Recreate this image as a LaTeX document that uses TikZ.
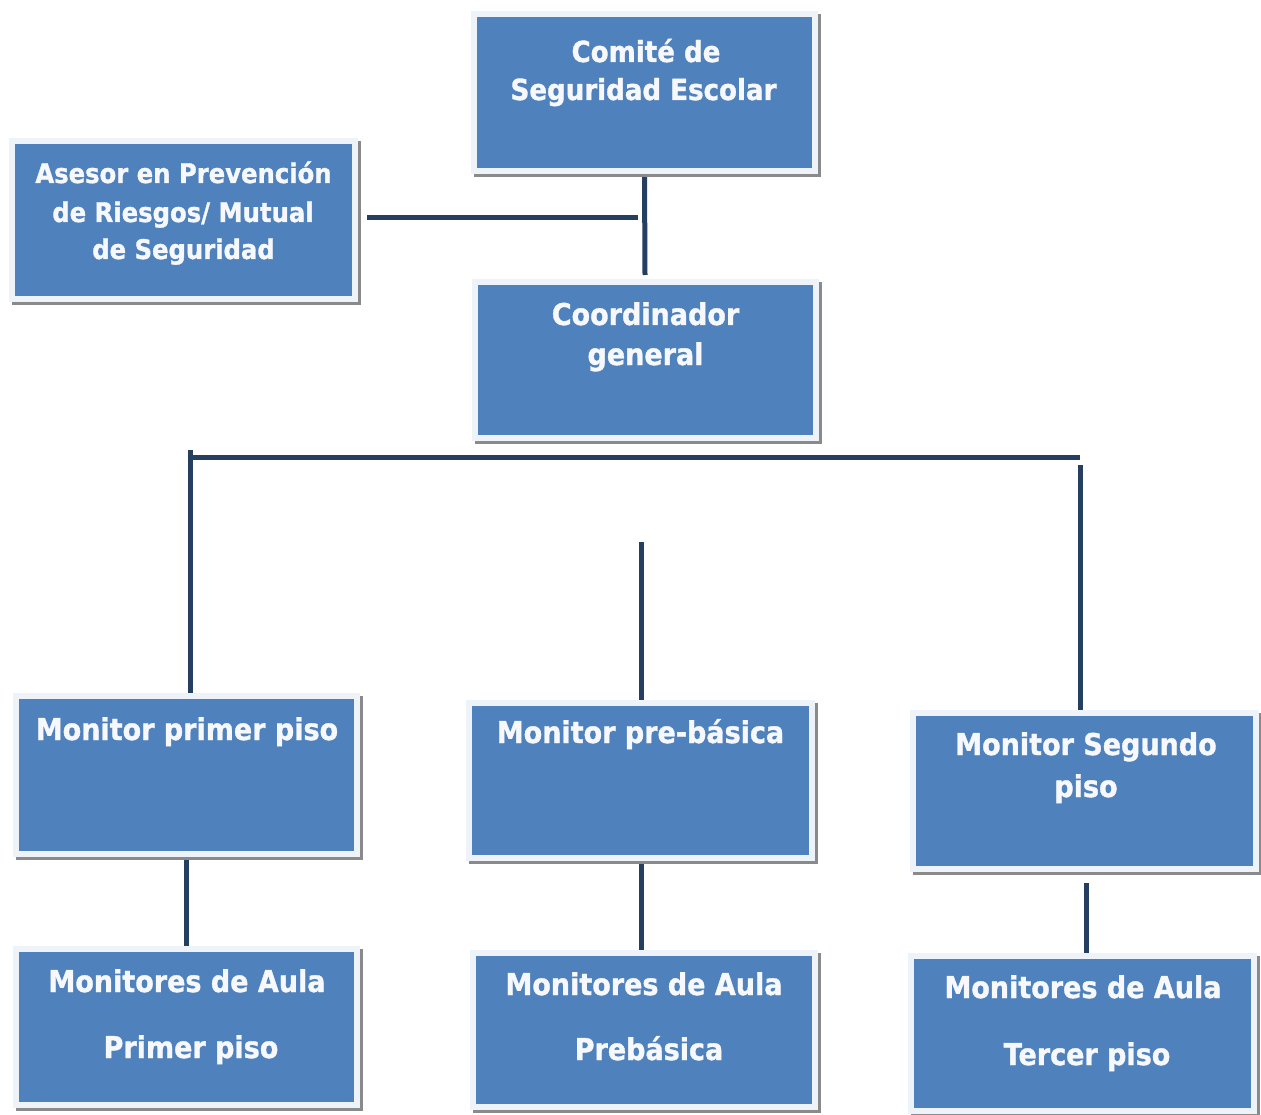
\documentclass[tikz,border=0pt]{standalone}
\usepackage{fontspec}
\newfontfamily\boxfont[FakeStretch=0.9,BoldFeatures={FakeBold=1.2}]{DejaVu Sans}
\usetikzlibrary{calc}
\definecolor{boxblue}{HTML}{4F81BD}
\definecolor{framecol}{HTML}{EEF3F9}
\definecolor{shadowcol}{HTML}{8A8A8A}
\definecolor{linecol}{HTML}{243F60}
\definecolor{txtcol}{HTML}{F6F8FC}
\pgfdeclarelayer{bg}
\pgfdeclarelayer{paper}
\pgfsetlayers{paper,bg,main}
\tikzset{
  orgbox/.style={rectangle, fill=boxblue, draw=framecol, line width=6pt, inner sep=0pt,
    preaction={draw=shadowcol, fill=shadowcol, line width=6pt,
      transform canvas={xshift=3pt,yshift=-3pt}}},
  boxtxt/.style={anchor=base, inner sep=0pt, text=txtcol,
    font=\boxfont\bfseries\fontsize{30}{36}\selectfont},
  smalltxt/.style={boxtxt, font=\boxfont\bfseries\fontsize{27}{33}\selectfont},
  midtxt/.style={boxtxt, font=\boxfont\bfseries\fontsize{29}{35}\selectfont},
  conn/.style={draw=linecol, line width=5pt, line cap=butt},
}
\begin{document}
\begin{tikzpicture}[x=1pt,y=-1pt]
\useasboundingbox (0,0) rectangle (1261,1115);
\begin{pgfonlayer}{paper}
\fill[white] (0,0) rectangle (1261,1115);
\end{pgfonlayer}

% boxes
\node[orgbox, minimum width=341pt, minimum height=157pt] (comite) at (644.5,92.5) {};
\node[orgbox, minimum width=343pt, minimum height=158pt] (asesor) at (183.5,220) {};
\node[orgbox, minimum width=341pt, minimum height=155pt] (coord) at (645.5,360) {};
\node[orgbox, minimum width=341pt, minimum height=158pt] (mon1) at (186.5,775) {};
\node[orgbox, minimum width=341pt, minimum height=156pt] (aula1) at (186.5,1027) {};
\node[orgbox, minimum width=343pt, minimum height=155pt] (mon2) at (640.5,780.5) {};
\node[orgbox, minimum width=342pt, minimum height=154pt] (aula2) at (644,1030) {};
\node[orgbox, minimum width=343pt, minimum height=156pt] (mon3) at (1084.5,791) {};
\node[orgbox, minimum width=343pt, minimum height=155pt] (aula3) at (1082.5,1033.5) {};

% texts
\node[midtxt] (comite-a) at (646,62) {Comité de};
\node[midtxt] (comite-b) at (643.5,100) {Seguridad Escolar};
\node[smalltxt] (asesor-a) at (183.5,183) {Asesor en Prevención};
\node[smalltxt] (asesor-b) at (183,222) {de Riesgos/ Mutual};
\node[smalltxt] (asesor-c) at (183.5,259) {de Seguridad};
\node[boxtxt] (coord-a) at (645.5,325) {Coordinador};
\node[boxtxt] (coord-b) at (645.5,365) {general};
\node[boxtxt] (mon1-a) at (187,740) {Monitor primer piso};
\node[boxtxt] (aula1-a) at (187,992) {Monitores de Aula};
\node[boxtxt] (aula1-b) at (191,1058) {Primer piso};
\node[boxtxt] (mon2-a) at (640.5,743) {Monitor pre-básica};
\node[boxtxt] (aula2-a) at (644,995) {Monitores de Aula};
\node[boxtxt] (aula2-b) at (649,1060) {Prebásica};
\node[boxtxt] (mon3-a) at (1086,755) {Monitor Segundo};
\node[boxtxt] (mon3-b) at (1086,797) {piso};
\node[boxtxt] (aula3-a) at (1083,998) {Monitores de Aula};
\node[boxtxt] (aula3-b) at (1087,1065) {Tercer piso};

% connector points
\coordinate (trunkend) at (645,275);
\coordinate (asesorend) at (638,218);
\coordinate (asesorstart) at (367,218);
\coordinate (busL) at (190,457);
\coordinate (busR) at (1080,457);
\coordinate (leftTop) at (190,450);
\coordinate (leftBot) at (190,700);
\coordinate (midTop) at (641,542);
\coordinate (midBot) at (641,705);
\coordinate (rightTop) at (1080,465);
\coordinate (rightBot) at (1080,716);
\coordinate (m2a) at (641,860);
\coordinate (m3a) at (1086,883);

\begin{pgfonlayer}{bg}
\draw[conn] (comite.south) -- (trunkend);
\draw[conn] (asesorstart) -- (asesorend);
\draw[conn] (busL) -- (busR);
\draw[conn] (leftTop) -- (leftBot);
\draw[conn] (midTop) -- (midBot);
\draw[conn] (rightTop) -- (rightBot);
\draw[conn] (mon1.south) -- (mon1.south |- aula1.north);
\draw[conn] (m2a) -- (m2a |- aula2.north);
\draw[conn] (m3a) -- (m3a |- aula3.north);
\end{pgfonlayer}
\end{tikzpicture}
\end{document}
